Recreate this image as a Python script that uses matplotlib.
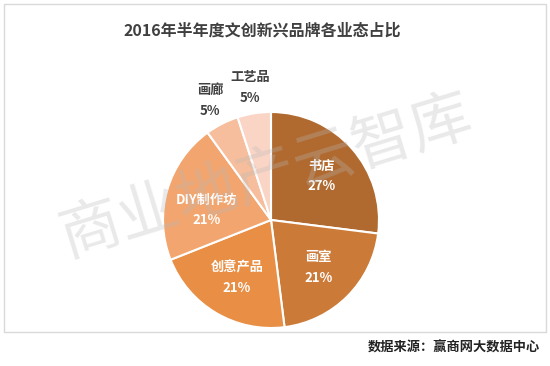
import numpy as np
import matplotlib
matplotlib.use("Agg")
from matplotlib import pyplot as plt
from matplotlib.patches import Rectangle

plt.rcParams['font.family'] = ['Noto Sans CJK SC', 'DejaVu Sans']

# data
categories = ['书店', '画室', '创意产品', 'DIY制作坊', '画廊', '工艺品']
shares = [27, 21, 21, 21, 5, 5]
colors = ['#B06A30', '#CB7A38', '#E88E45', '#F2A56E', '#F6BE9C', '#FAD5C6']
outside = [False, False, False, False, True, True]

title = '2016年半年度文创新兴品牌各业态占比'
source = '数据来源：赢商网大数据中心'
watermark = '商业地产云智库'

W, H = 550, 366
fig = plt.figure(figsize=(W / 100, H / 100), dpi=100)

# light frame round the chart area
fig.patches.append(Rectangle((4 / W, 1 - 332 / H), 542 / W, 328 / H,
                             transform=fig.transFigure, fill=False,
                             edgecolor='#D9D9D9', linewidth=1))

fig.text(262 / W, 1 - 30 / H, title, ha='center', va='center',
         fontsize=11.5, fontweight='bold', color='#404040')

# pie: centre (271, 220) px, radius 108 px
cx, cy, r = 271, 220, 108
ax = fig.add_axes([(cx - r) / W, (H - cy - r) / H, 2 * r / W, 2 * r / H])
wedges, _ = ax.pie(shares, colors=colors, startangle=90, counterclock=False,
                   wedgeprops=dict(edgecolor='white', linewidth=1.5))
ax.set_xlim(-1, 1)
ax.set_ylim(-1, 1)
ax.set_aspect('equal')
ax.axis('off')

for w, name, val, out in zip(wedges, categories, shares, outside):
    ang = np.deg2rad((w.theta1 + w.theta2) / 2)
    d = 1.24 if out else 0.62
    x, y = d * np.cos(ang), d * np.sin(ang)
    if name.startswith('DIY'):
        y -= 0.08
    col = '#404040' if out else 'white'
    ax.text(x, y, name + '\n' + str(val) + '%', ha='center', va='center',
            fontsize=9.5, fontweight='bold', color=col, linespacing=1.6,
            clip_on=False)

# faint watermark over the plot
fig.text(266 / W, 1 - 178 / H, watermark, ha='center', va='center',
         fontsize=44, color='#B8B8B8', alpha=0.3, rotation=17,
         zorder=10)

fig.text(540 / W, 1 - 348 / H, source, ha='right', va='center',
         fontsize=9.5, fontweight='bold', color='#222222')

fig.savefig('out.png', dpi=100, facecolor='white')
